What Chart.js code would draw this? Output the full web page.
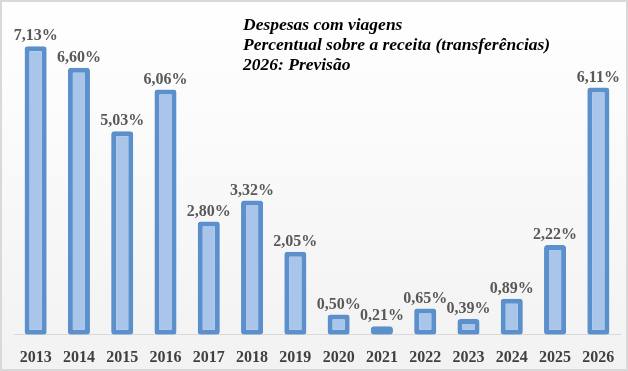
<!DOCTYPE html>
<html>
<head>
<meta charset="utf-8">
<script src="https://cdn.jsdelivr.net/npm/chart.js@4"></script>
<style>
  body { margin: 0; background: #fff; }
  #wrap { width: 628px; height: 371px; }
</style>
</head>
<body>
<div id="wrap"><canvas id="chart" width="628" height="371"></canvas></div>
<script>
const years = ['2013', '2014', '2015', '2016', '2017', '2018', '2019', '2020', '2021', '2022', '2023', '2024', '2025', '2026'];
const percentages = [7.13, 6.60, 5.03, 6.06, 2.80, 3.32, 2.05, 0.50, 0.21, 0.65, 0.39, 0.89, 2.22, 6.11];
const titleLines = ['Despesas com viagens', 'Percentual sobre a receita (transferências)', '2026: Previsão'];

// faint white-to-grey background plus the thin grey frame round the picture
const frame = {
    id: 'frame',
    beforeDraw(chart) {
        const ctx = chart.ctx;
        ctx.save();
        const g = ctx.createLinearGradient(0, 0, 0, chart.height);
        g.addColorStop(0, '#ffffff');
        g.addColorStop(1, '#f2f2f2');
        ctx.fillStyle = g;
        ctx.fillRect(0, 0, chart.width, chart.height);
        ctx.strokeStyle = '#d9d9d9';
        ctx.lineWidth = 2;
        ctx.strokeRect(1, 1, chart.width - 2, chart.height - 2);
        ctx.restore();
    }
};

// value labels above each bar, written like 7,13%
const valueLabels = {
    id: 'valueLabels',
    afterDatasetsDraw(chart) {
        const ctx = chart.ctx;
        const meta = chart.getDatasetMeta(0);
        ctx.save();
        ctx.font = 'bold 16px "Liberation Serif"';
        ctx.fillStyle = '#595959';
        ctx.textAlign = 'center';
        ctx.textBaseline = 'bottom';
        meta.data.forEach((bar, i) => {
            const txt = percentages[i].toFixed(2).replace('.', ',') + '%';
            ctx.fillText(txt, bar.x, bar.y - 2);
        });
        ctx.restore();
    }
};

// the three italic lines in the top middle
const titleBlock = {
    id: 'titleBlock',
    afterDraw(chart) {
        const ctx = chart.ctx;
        ctx.save();
        ctx.font = 'italic bold 17.5px "Liberation Serif"';
        ctx.fillStyle = '#000';
        ctx.textAlign = 'left';
        ctx.textBaseline = 'middle';
        titleLines.forEach((line, i) => {
            ctx.fillText(line, 243, 25 + i * 20);
        });
        ctx.restore();
    }
};

const ctx = document.getElementById('chart').getContext('2d');
new Chart(ctx, {
    type: 'bar',
    data: {
        labels: years,
        datasets: [{
            data: percentages,
            backgroundColor: '#a9c5ea',
            borderColor: '#5b90cc',
            borderWidth: 5,
            borderRadius: 3,
            borderSkipped: false,
            barPercentage: 0.51,
            categoryPercentage: 1
        }]
    },
    options: {
        responsive: false,
        animation: false,
        layout: { padding: { left: 14, right: 8, top: 11, bottom: -9 } },
        plugins: {
            legend: { display: false },
            tooltip: { enabled: false }
        },
        scales: {
            x: {
                grid: { display: false, drawTicks: false },
                border: { display: true, color: '#d9d9d9', width: 1 },
                ticks: {
                    color: '#404040',
                    padding: 13,
                    font: { family: '"Liberation Serif"', size: 16, weight: 'bold' }
                }
            },
            y: {
                display: false,
                min: 0,
                max: 8
            }
        }
    },
    plugins: [frame, valueLabels, titleBlock]
});
</script>
</body>
</html>
